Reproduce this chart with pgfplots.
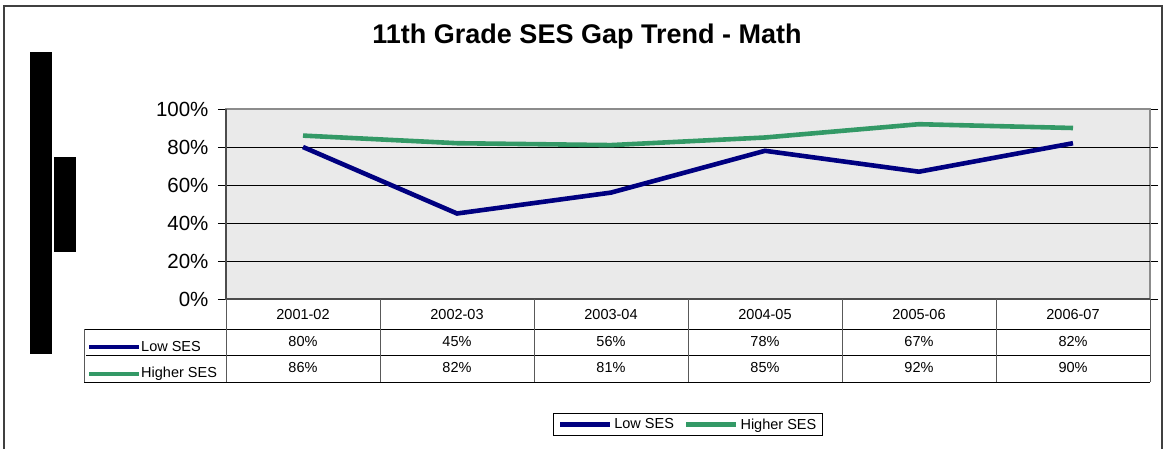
\documentclass[border=0pt]{standalone}
\usepackage{pgfplots}
\pgfplotsset{compat=1.18}
\usepackage{fontspec}
\setmainfont{Liberation Sans}
\definecolor{lowses}{RGB}{0,0,128}
\definecolor{highses}{RGB}{51,153,102}
\definecolor{plotbg}{RGB}{234,234,234}
\begin{document}
\begin{tikzpicture}[x=1pt,y=1pt]
\useasboundingbox (0pt,0pt) rectangle (1165pt,448pt);
\fill[white] (0pt,0pt) rectangle (1165pt,448pt);
\draw[black!75, line width=1.2pt] (4pt,-2pt) -- (4pt,442pt) -- (1162pt,442pt) -- (1162pt,-2pt);
\node[font=\fontsize{27}{31}\selectfont\bfseries] at (587pt,411pt) {11th Grade SES Gap Trend - Math};
\begin{axis}[
  at={(226pt,149pt)}, anchor=south west, scale only axis,
  width=924pt, height=190pt,
  xmin=-0.5, xmax=5.5, ymin=0, ymax=100,
  ytick={0,20,...,100},
  yticklabel={\pgfmathprintnumber{\tick}\%},
  /pgf/number format/assume math mode=true,
  yticklabel style={font=\fontsize{20.5}{24}\selectfont, xshift=-6pt},
  tick align=outside, major tick length=8pt,
  ytick style={black, line width=0.8pt},
  xtick={0,...,5},
  xticklabels={2001-02,2002-03,2003-04,2004-05,2005-06,2006-07},
  xtick style={draw=none},
  xticklabel style={font=\fontsize{14.5}{17}\selectfont, anchor=center, yshift=-8pt},
  extra y ticks={20,40,60,80},
  extra y tick labels={},
  extra y tick style={grid=major, major tick length=0pt},
  grid style={black, line width=0.7pt},
  axis background/.style={fill=plotbg},
  axis line style={black!45, line width=1.2pt},
  clip=false,
  legend columns=2,
  legend style={at={(0.5,-0.6605)}, anchor=center, draw=black, line width=0.8pt,
    font=\fontsize{14.5}{17}\selectfont, inner xsep=4pt, inner ysep=3pt,
    /tikz/every even column/.append style={column sep=8pt}},
  legend image code/.code={\draw[#1] (0pt,0pt) -- (50pt,0pt);},
]
\addplot[lowses, line width=4.6pt] coordinates {(0,80) (1,45) (2,56) (3,78) (4,67) (5,82)};
\addlegendentry{Low SES}
\addplot[highses, line width=4.6pt] coordinates {(0,86) (1,82) (2,81) (3,85) (4,92) (5,90)};
\addlegendentry{Higher SES}
\draw[black!70, line width=1.5pt] (rel axis cs:0,1) -- (rel axis cs:0,0) -- (rel axis cs:1,0);
\end{axis}
% data table
\draw[black, line width=0.8pt] (84pt,119pt) -- (1150pt,119pt);
\draw[black, line width=0.8pt] (86pt,93pt) -- (1150pt,93pt);
\draw[black, line width=0.8pt] (84pt,66pt) -- (1150pt,66pt);
\draw[black!65, line width=1pt] (84pt,119pt) -- (84pt,66pt);
\foreach \xx in {226,380,534,688,842,996,1150} {\draw[black!65, line width=1pt] (\xx pt,149pt) -- (\xx pt,66pt);}
\draw[lowses, line width=4.6pt] (89pt,101pt) -- (139pt,101pt);
\node[anchor=west, inner sep=1pt, font=\fontsize{14.5}{17}\selectfont] at (140pt,101pt) {Low SES};
\draw[highses, line width=4.6pt] (89pt,74pt) -- (139pt,74pt);
\node[anchor=west, inner sep=1pt, font=\fontsize{14.5}{17}\selectfont] at (140pt,74pt) {Higher SES};
\foreach \xx/\v in {303/80,457/45,611/56,765/78,919/67,1073/82}
  {\node[font=\fontsize{14.5}{17}\selectfont] at (\xx pt,106pt) {\v\%};}
\foreach \xx/\v in {303/86,457/82,611/81,765/85,919/92,1073/90}
  {\node[font=\fontsize{14.5}{17}\selectfont] at (\xx pt,80pt) {\v\%};}
% redaction bars
\fill[black] (30pt,396pt) rectangle (52pt,94pt);
\fill[black] (54pt,291pt) rectangle (76pt,196pt);
\end{tikzpicture}
\end{document}
